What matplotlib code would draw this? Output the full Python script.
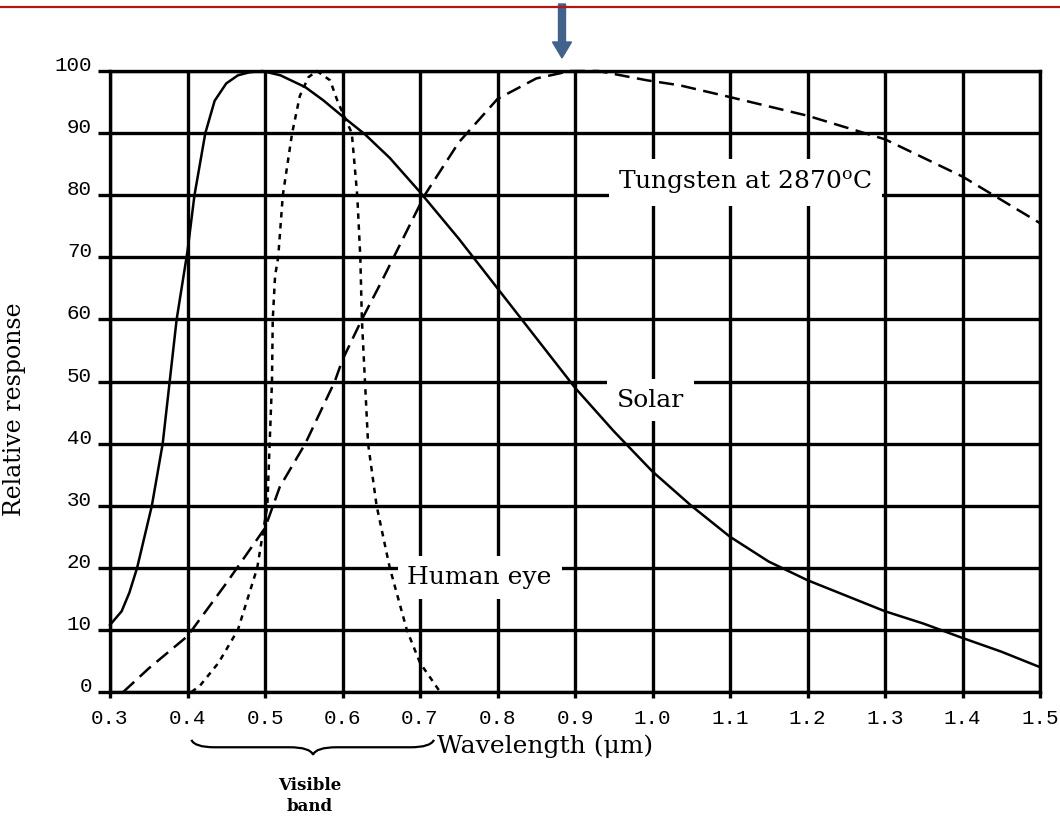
import numpy as np
import matplotlib
matplotlib.use('Agg')
from matplotlib import pyplot as plt
from matplotlib import patches
from matplotlib.path import Path
from matplotlib.lines import Line2D

# ~~~~~~~~~~~~~~~~~~~~ data ~~~~~~~~~~~~~~~~~~~~
# wavelength (um) vs relative response (%)
solar_x = [0.30, 0.315, 0.325, 0.335, 0.354, 0.368, 0.377, 0.386, 0.40, 0.409,
           0.423, 0.435, 0.45, 0.465, 0.48, 0.497, 0.52, 0.552, 0.575, 0.603,
           0.629, 0.661, 0.70, 0.75, 0.80, 0.85, 0.90, 0.95, 1.00, 1.05,
           1.10, 1.15, 1.20, 1.25, 1.30, 1.35, 1.40, 1.45, 1.50]
solar_y = [10.8, 13, 16, 20, 30, 40, 50, 60, 71, 80,
           90, 95.2, 98, 99.3, 99.8, 100, 99.3, 97.4, 95.3, 92.4,
           89.8, 86, 80.5, 73, 65, 57, 49, 42, 35.5, 30,
           25, 21, 18, 15.5, 13, 11, 8.7, 6.5, 4]

tung_x = [0.317, 0.35, 0.40, 0.45, 0.50, 0.519, 0.552, 0.59, 0.60, 0.625,
          0.65, 0.706, 0.75, 0.80, 0.85, 0.894, 0.93, 0.993, 1.035, 1.10,
          1.20, 1.30, 1.40, 1.50]
tung_y = [0, 3.8, 9, 17.5, 26.4, 33, 40, 50, 53.5, 60,
          66, 80, 88.5, 95.5, 98.8, 100, 100, 98.5, 97.7, 95.8,
          92.8, 89, 83, 75.5]

eye_x = [0.405, 0.416, 0.44, 0.465, 0.49, 0.503, 0.506, 0.509, 0.510, 0.513,
         0.517, 0.523, 0.535, 0.545, 0.556, 0.567, 0.584, 0.594, 0.612, 0.619,
         0.623, 0.625, 0.629, 0.633, 0.644, 0.661, 0.683, 0.70, 0.726]
eye_y = [0, 1, 4.7, 10, 20, 30, 40, 50, 60, 67,
         70, 80, 90, 96, 99, 100, 98.5, 95, 90, 80,
         70, 60, 50, 40, 30, 20, 10, 4.7, 0]

xticks = [0.3, 0.4, 0.5, 0.6, 0.7, 0.8, 0.9, 1.0, 1.1, 1.2, 1.3, 1.4, 1.5]
xtick_labels = ['0.3', '0.4', '0.5', '0.6', '0.7', '0.8', '0.9',
                '1.0', '1.1', '1.2', '1.3', '1.4', '1.5']
yticks = [0, 10, 20, 30, 40, 50, 60, 70, 80, 90, 100]

plt.rcParams['mathtext.fontset'] = 'dejavuserif'

fig = plt.figure(figsize=(10.6, 8.18), dpi=100)
ax = fig.add_axes([110/1060, 1 - 692/818, 930/1060, 621/818])

# grid first, then the curves on top
ax.set_xlim(0.3, 1.5)
ax.set_ylim(0, 100)
ax.set_xticks(xticks)
ax.set_xticklabels(xtick_labels)
ax.set_yticks(yticks)
ax.grid(True, color='black', lw=2.4, zorder=1)
ax.set_axisbelow(True)
for s in ax.spines.values():
    s.set_linewidth(2.4)

ax.tick_params(axis='y', length=9, width=2.4, pad=4, labelsize=15)
ax.tick_params(axis='x', length=4, width=2.4, pad=8, labelsize=15)
for lab in ax.get_xticklabels() + ax.get_yticklabels():
    lab.set_family('Liberation Mono')
for lab in ax.get_yticklabels():
    lab.set_va('baseline')

ax.plot(solar_x, solar_y, color='black', lw=1.8, zorder=4, clip_on=False,
        solid_joinstyle='round')
ax.plot(tung_x, tung_y, color='black', lw=1.8, dashes=(6, 3), zorder=4, clip_on=False)
ax.plot(eye_x, eye_y, color='black', lw=1.8, dashes=(2.2, 2.2), zorder=4, clip_on=False)

box = dict(facecolor='white', edgecolor='none', pad=7)
ax.text(1.12, 82, r'Tungsten at 2870$^{\mathrm{o}}$C', family='DejaVu Serif',
        fontsize=18, ha='center', va='center', bbox=box, zorder=3)
ax.text(0.997, 47, 'Solar', family='DejaVu Serif', fontsize=18,
        ha='center', va='center', bbox=box, zorder=3)
ax.text(0.777, 18.4, 'Human eye', family='DejaVu Serif', fontsize=18,
        ha='center', va='center', bbox=box, zorder=3)

ax.set_xlabel('Wavelength (\u03bcm)', family='DejaVu Serif', fontsize=18)
ax.xaxis.set_label_coords(0.468, -0.068)
ax.set_ylabel('Relative response', family='DejaVu Serif', fontsize=17)
ax.yaxis.set_label_coords(-0.09, 0.455)

# brace under the visible band
bx0, bxm, bx1 = 0.405, 0.562, 0.718
ytop, ymid, ytip = -7.7, -8.9, -10.1
verts = [(bx0, ytop), (bx0 + 0.004, ymid), (bx0 + 0.03, ymid),
         (bxm - 0.03, ymid), (bxm - 0.004, ymid), (bxm, ytip),
         (bxm + 0.004, ymid), (bxm + 0.03, ymid),
         (bx1 - 0.03, ymid), (bx1 - 0.004, ymid), (bx1, ytop)]
codes = [Path.MOVETO, Path.CURVE3, Path.CURVE3, Path.LINETO, Path.CURVE3, Path.CURVE3,
         Path.CURVE3, Path.CURVE3, Path.LINETO, Path.CURVE3, Path.CURVE3]
brace = patches.PathPatch(Path(verts, codes), facecolor='none', edgecolor='black',
                          lw=1.6, transform=ax.transData, clip_on=False)
ax.add_patch(brace)
ax.text(0.558, -16.7, 'Visible\nband', family='DejaVu Serif', fontsize=12,
        fontweight='bold', ha='center', va='center', linespacing=1.3)

# red rule and blue arrow across the top
fig.add_artist(Line2D([0, 1], [1 - 7/818, 1 - 7/818], color='#b01818', lw=1.6,
                      transform=fig.transFigure))
arrow = patches.FancyArrow(562/1060, 1 - 4/818, 0, -(54/818), width=7/1060,
                           head_width=19/1060, head_length=16/818,
                           length_includes_head=True, color='#41628c',
                           transform=fig.transFigure)
fig.add_artist(arrow)

fig.savefig('out.png', dpi=100)
